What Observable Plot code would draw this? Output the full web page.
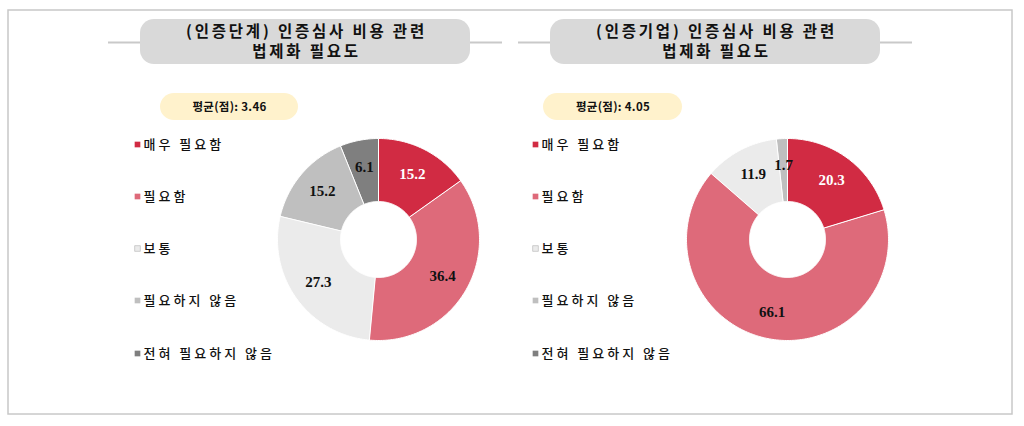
<!DOCTYPE html>
<html><head><meta charset="utf-8">
<script src="https://cdn.jsdelivr.net/npm/d3@7"></script>
<script src="https://cdn.jsdelivr.net/npm/@observablehq/plot@0.6"></script>
<style>
body{margin:0;background:#fff;} #chart svg{display:block;}
</style>
</head><body><div id="chart"></div>
<script>
const categories = ["매우 필요함", "필요함", "보통", "필요하지 않음", "전혀 필요하지 않음"];
const stageValues = [15.2, 36.4, 27.3, 15.2, 6.1];
const firmValues = [20.3, 66.1, 11.9, 1.7, 0];
const panelTitles = ["(인증단계) 인증심사 비용 관련\n법제화 필요도", "(인증기업) 인증심사 비용 관련\n법제화 필요도"];
const meanLabels = ["평균(점): 3.46", "평균(점): 4.05"];
const colors = ["#d12b43", "#de6a7a", "#ebebeb", "#bfbfbf", "#7f7f7f"];

const KR = "'Noto Sans CJK KR', 'Noto Sans', sans-serif";
const NUM = "'Liberation Serif', 'DejaVu Serif', serif";

const panels = [
  {values: stageValues, title: panelTitles[0], mean: meanLabels[0],
   line: [108, 502], pill: [140, 470], cx: 305, meanBox: [160, 298], legendX: 137, donut: [378, 239]},
  {values: firmValues, title: panelTitles[1], mean: meanLabels[1],
   line: [518, 912], pill: [550, 880], cx: 715, meanBox: [543, 682], legendX: 535, donut: [787, 239]}
];
const R_OUT = 101, R_IN = 38, R_LAB = 74;
const legendY = [144, 196, 248, 300, 353];
const titleLineY = [32, 52];

const slicePts = [], labels = [], lines = [], pills = [], titles = [], means = [], legendDots = [], legendText = [];
panels.forEach((p, pi) => {
  lines.push({x1: p.line[0], x2: p.line[1], y: 42});
  pills.push({x1: p.pill[0], x2: p.pill[1], y1: 19, y2: 64, kind: "title"});
  pills.push({x1: p.meanBox[0], x2: p.meanBox[1], y1: 93, y2: 120, kind: "mean"});
  p.title.split("\n").forEach((t, li) => titles.push({x: p.cx + 1, y: titleLineY[li], text: t}));
  means.push({x: (p.meanBox[0] + p.meanBox[1]) / 2, y: 106.5, text: p.mean});
  categories.forEach((c, i) => {
    legendDots.push({x: p.legendX, y: legendY[i], c: i});
    legendText.push({x: p.legendX + 6, y: legendY[i], text: c});
  });
  const arcs = d3.pie().sort(null).value(d => d)(p.values);
  const [cx, cy] = p.donut;
  arcs.forEach((a, i) => {
    if (a.value <= 0) return;
    const key = pi + "-" + i;
    const n = Math.max(4, Math.ceil((a.endAngle - a.startAngle) * 60));
    for (let k = 0; k <= n; k++) {
      const t = a.startAngle + (a.endAngle - a.startAngle) * k / n;
      slicePts.push({key, c: i, x: cx + R_OUT * Math.sin(t), y: cy - R_OUT * Math.cos(t)});
    }
    for (let k = n; k >= 0; k--) {
      const t = a.startAngle + (a.endAngle - a.startAngle) * k / n;
      slicePts.push({key, c: i, x: cx + R_IN * Math.sin(t), y: cy - R_IN * Math.cos(t)});
    }
    const m = (a.startAngle + a.endAngle) / 2;
    labels.push({x: cx + R_LAB * Math.sin(m), y: cy - R_LAB * Math.cos(m), text: a.value.toFixed(1), c: i});
  });
});

const chart = Plot.plot({
  width: 1024, height: 426, margin: 0,
  x: {domain: [0, 1024], range: [0, 1024], axis: null},
  y: {domain: [0, 426], range: [0, 426], axis: null},
  style: {background: "#fff"},
  marks: [
    Plot.rect([{x1: 8, x2: 1012, y1: 10, y2: 414}], {x1: "x1", x2: "x2", y1: "y1", y2: "y2", fill: "none", stroke: "#c8c8c8", strokeWidth: 1.5}),
    Plot.ruleY(lines, {x1: "x1", x2: "x2", y: "y", stroke: "#c9c9c9", strokeWidth: 2}),
    Plot.rect(pills, {x1: "x1", x2: "x2", y1: "y1", y2: "y2", rx: 14, fill: d => d.kind === "title" ? "#d9d9d9" : "#fff2cc"}),
    Plot.text(titles, {x: "x", y: "y", text: "text", fontFamily: KR, fontWeight: 700, fontSize: 15.5, fill: "#111", ariaDescription: "panel-title"}),
    Plot.text(means, {x: "x", y: "y", text: "text", fontFamily: KR, fontWeight: 700, fontSize: 11.5, fill: "#111", ariaDescription: "mean-text"}),
    Plot.dot(legendDots, {x: "x", y: "y", symbol: "square", r: 3.2, fill: d => colors[d.c], stroke: d => d.c === 2 ? "#c4c4c4" : "none", strokeWidth: 0.8}),
    Plot.text(legendText, {x: "x", y: "y", text: "text", textAnchor: "start", fontFamily: KR, fontSize: 13, fontWeight: 500, fill: "#111", ariaDescription: "legend-text"}),
    Plot.line(slicePts, {x: "x", y: "y", z: "key", curve: "linear-closed", fill: d => colors[d.c], stroke: "#fff", strokeWidth: 1}),
    Plot.text(labels, {x: "x", y: "y", text: "text", fontFamily: NUM, fontWeight: 700, fontSize: 15, fill: d => d.c === 0 ? "#fff" : "#111"})
  ]
});
// widen the spacing of the Korean texts, as in the reference
const spacing = {"panel-title": 2.8, "legend-text": 3, "mean-text": 0.3};
d3.select(chart).selectAll("g[aria-description]").each(function () {
  const s = spacing[this.getAttribute("aria-description")];
  if (s != null) d3.select(this).selectAll("text, tspan").attr("letter-spacing", s);
});
document.getElementById("chart").append(chart);
</script>
</body></html>
